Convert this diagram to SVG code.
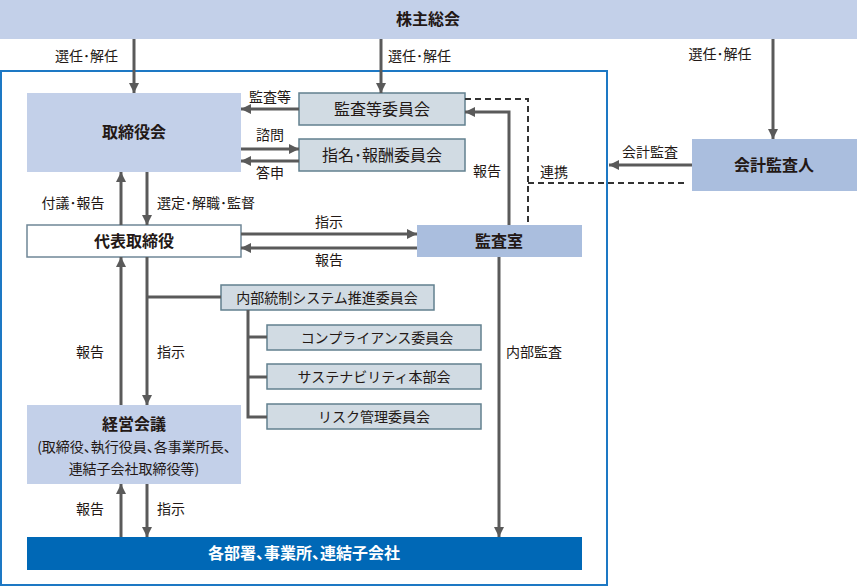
<svg xmlns="http://www.w3.org/2000/svg" width="857" height="587" viewBox="0 0 857 587">
<style>
text{font-family:"Noto Sans CJK JP","Noto Sans",sans-serif;fill:#231815}
.t{font-size:16px;font-weight:bold;text-anchor:middle}
.s{font-size:14px;text-anchor:middle}
.l{font-size:14px}
.m{text-anchor:middle}
.e{text-anchor:end}
.p{font-feature-settings:"palt"}
.ln{stroke:#5a5a5a;stroke-width:3;fill:none}
.dash{stroke:#333;stroke-width:2;fill:none;stroke-dasharray:6 4}
.c{fill:#d1dbe3;stroke:#62808f;stroke-width:1.5}
</style>
<defs>
<marker id="a" viewBox="0 0 10 10" refX="10" refY="5" markerWidth="10" markerHeight="10" markerUnits="userSpaceOnUse" orient="auto">
<path d="M0,0 L10,5 L0,10 z" fill="#5a5a5a"/>
</marker>
</defs>
<rect x="1" y="71" width="606" height="514" fill="none" stroke="#1d78c4" stroke-width="2"/>
<g id="kabunushi"><rect x="0" y="0" width="857" height="39" fill="#c3d0e9"/><text class="t" x="428" y="25">株主総会</text></g>
<g id="torishimariyakukai"><rect x="27" y="93" width="214" height="79" fill="#c3d0e9"/><text class="t" x="134" y="138">取締役会</text></g>
<g id="kansatou"><rect x="299" y="93" width="166" height="32" class="c"/><text class="t" x="382" y="115" style="font-weight:normal">監査等委員会</text></g>
<g id="shimei"><rect x="299" y="139" width="166" height="32" class="c"/><text class="t" x="382" y="161" style="font-weight:normal">指名･報酬委員会</text></g>
<g id="daihyo"><rect x="27" y="225" width="214" height="32" fill="#fff" stroke="#6f8797" stroke-width="1.5"/><text class="t" x="134" y="247">代表取締役</text></g>
<g id="kansashitsu"><rect x="417" y="225" width="165" height="32" fill="#aabede"/><text class="t" x="499" y="247">監査室</text></g>
<g id="kaikei"><rect x="692" y="139" width="165" height="52" fill="#aabede"/><text class="t" x="774" y="171">会計監査人</text></g>
<g id="naibutousei"><rect x="221" y="285" width="213" height="25" class="c"/><text class="s" x="327" y="303">内部統制システム推進委員会</text></g>
<g id="compliance"><rect x="267" y="325" width="214" height="25" class="c"/><text class="s" x="377" y="343">コンプライアンス委員会</text></g>
<g id="sustainability"><rect x="267" y="364" width="214" height="25" class="c"/><text class="s" x="374" y="382">サステナビリティ本部会</text></g>
<g id="risk"><rect x="267" y="404" width="214" height="25" class="c"/><text class="s" x="374" y="422">リスク管理委員会</text></g>
<g id="keiei"><rect x="27" y="405" width="214" height="79" fill="#c3d0e9"/><text class="t" x="134" y="430">経営会議</text><text class="s p" x="134" y="452">(取締役、執行役員、各事業所長、</text><text class="s p" x="134" y="474">連結子会社取締役等)</text></g>
<g id="kakubusho"><rect x="27" y="537" width="555" height="33" fill="#0068b6"/><text class="t p" x="304" y="559" style="fill:#fff">各部署、事業所、連結子会社</text></g>
<g id="connectors">
<line class="ln" x1="134" y1="39" x2="134" y2="93" marker-end="url(#a)"/>
<line class="ln" x1="381" y1="39" x2="381" y2="93" marker-end="url(#a)"/>
<line class="ln" x1="773" y1="39" x2="773" y2="139" marker-end="url(#a)"/>
<line class="ln" x1="299" y1="109" x2="241" y2="109" marker-end="url(#a)"/>
<line class="ln" x1="241" y1="149" x2="299" y2="149" marker-end="url(#a)"/>
<line class="ln" x1="299" y1="161" x2="241" y2="161" marker-end="url(#a)"/>
<line class="ln" x1="121" y1="225" x2="121" y2="172" marker-end="url(#a)"/>
<line class="ln" x1="147" y1="172" x2="147" y2="225" marker-end="url(#a)"/>
<line class="ln" x1="241" y1="234" x2="417" y2="234" marker-end="url(#a)"/>
<line class="ln" x1="417" y1="248" x2="241" y2="248" marker-end="url(#a)"/>
<polyline class="ln" points="509,225 509,112 465,112" marker-end="url(#a)"/>
<polyline class="dash" points="465,99 528,99 528,225"/>
<line class="dash" x1="528" y1="183" x2="688" y2="183"/>
<line class="ln" x1="692" y1="165" x2="609" y2="165" marker-end="url(#a)"/>
<line class="ln" x1="499" y1="257" x2="499" y2="537" marker-end="url(#a)"/>
<line class="ln" x1="121" y1="405" x2="121" y2="257" marker-end="url(#a)"/>
<line class="ln" x1="147" y1="257" x2="147" y2="405" marker-end="url(#a)"/>
<line class="ln" x1="147" y1="297" x2="221" y2="297"/>
<polyline class="ln" points="248,310 248,417 267,417"/>
<line class="ln" x1="248" y1="337" x2="267" y2="337"/>
<line class="ln" x1="248" y1="377" x2="267" y2="377"/>
<line class="ln" x1="121" y1="537" x2="121" y2="484" marker-end="url(#a)"/>
<line class="ln" x1="147" y1="484" x2="147" y2="537" marker-end="url(#a)"/>
</g>
<g id="labels">
<text class="l e" x="118" y="61">選任･解任</text>
<text class="l" x="388" y="61">選任･解任</text>
<text class="l m" x="720" y="59">選任･解任</text>
<text class="l m" x="270" y="102">監査等</text>
<text class="l m" x="270" y="140">諮問</text>
<text class="l m" x="270" y="178">答申</text>
<text class="l m" x="73" y="208">付議･報告</text>
<text class="l" x="157" y="208">選定･解職･監督</text>
<text class="l m" x="329" y="227">指示</text>
<text class="l m" x="329" y="265">報告</text>
<text class="l m" x="487" y="176">報告</text>
<text class="l" x="540" y="177">連携</text>
<text class="l m" x="650" y="157">会計監査</text>
<text class="l" x="506" y="357">内部監査</text>
<text class="l m" x="90" y="357">報告</text>
<text class="l m" x="171" y="357">指示</text>
<text class="l m" x="90" y="514">報告</text>
<text class="l m" x="171" y="514">指示</text>
</g>
</svg>
